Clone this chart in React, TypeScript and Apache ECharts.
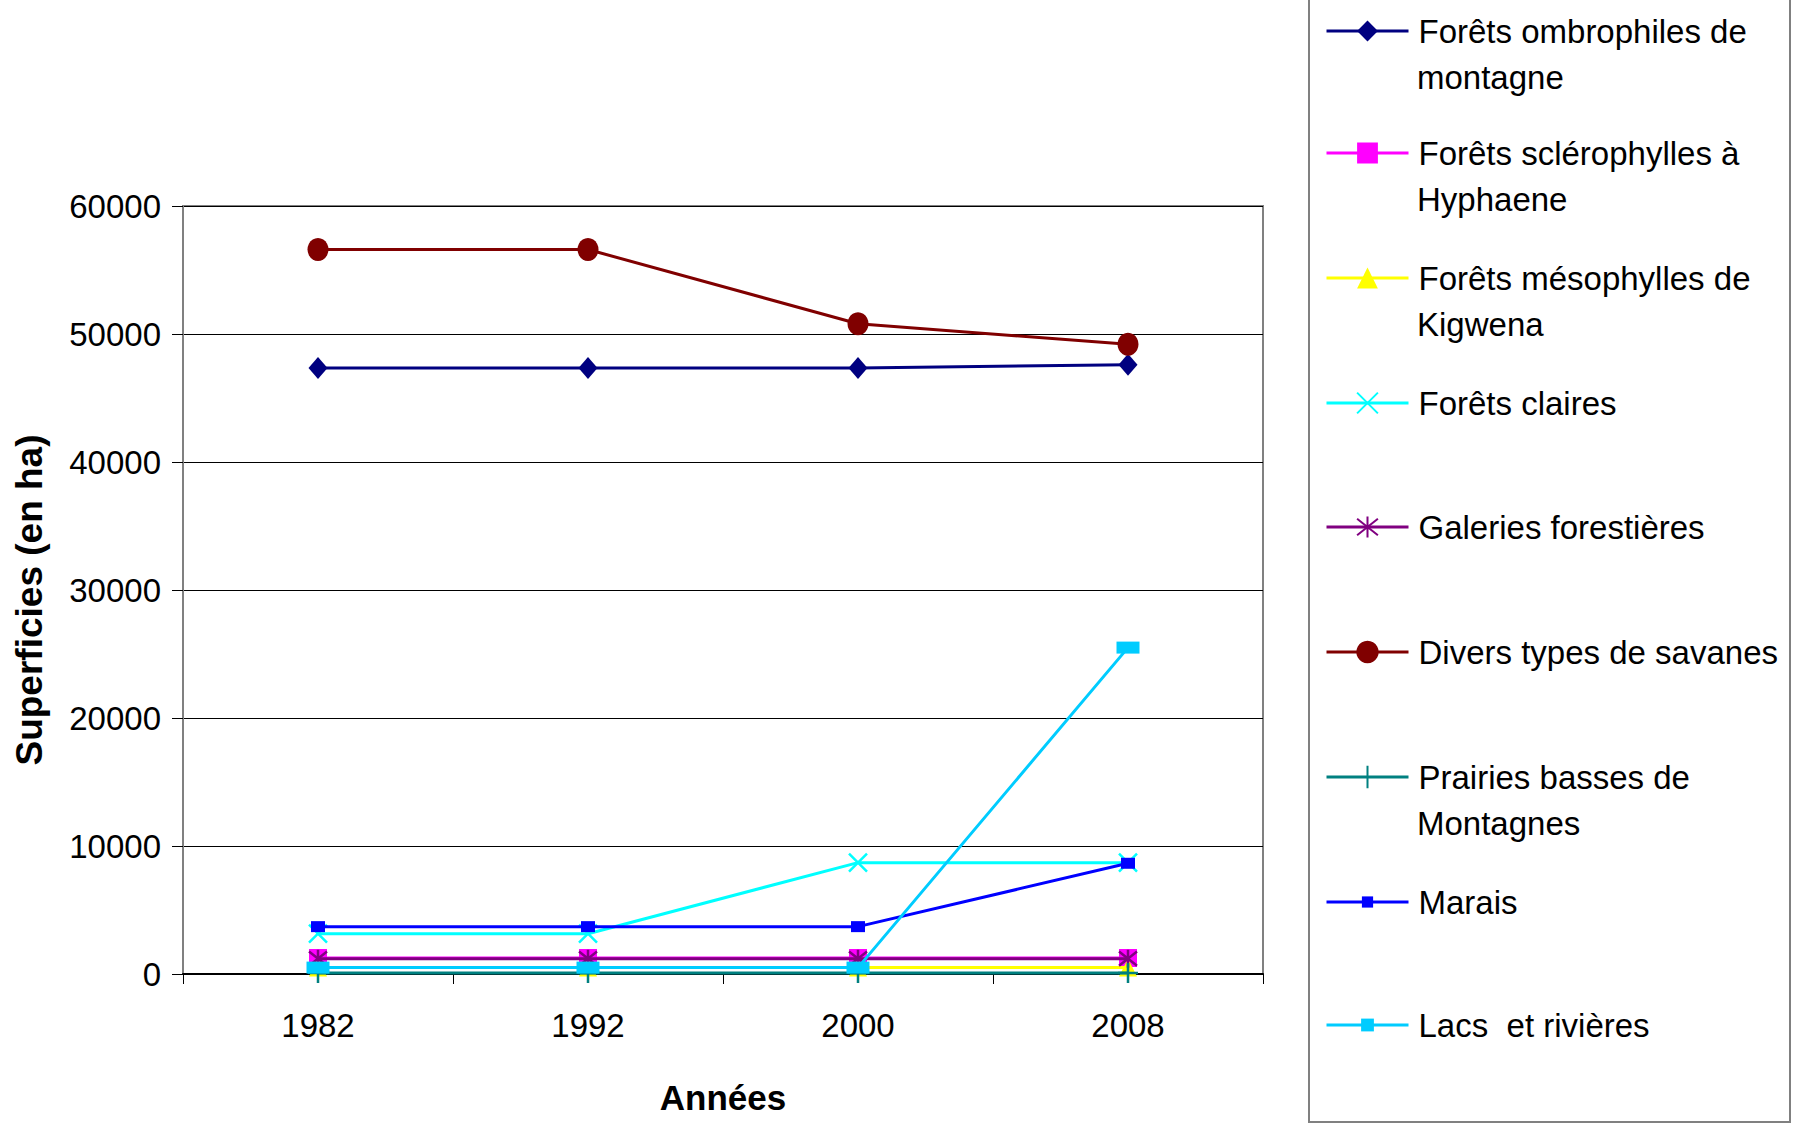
import React, { useEffect, useRef } from 'react';
import * as echarts from 'echarts';

const years = ['1982', '1992', '2000', '2008'];

const ombrophiles = [47350, 47350, 47350, 47600];
const sclerophylles = [1250, 1250, 1250, 1250];
const mesophylles = [500, 500, 500, 500];
const claires = [3150, 3150, 8700, 8700];
const galeries = [1200, 1200, 1200, 1200];
const savanes = [56600, 56600, 50800, 49200];
const prairies = [80, 80, 80, 80];
const marais = [3700, 3700, 3700, 8650];
const lacs = [500, 500, 500, 25500];

const seriesNames = [
  'Forêts ombrophiles de montagne',
  'Forêts sclérophylles à Hyphaene',
  'Forêts mésophylles de Kigwena',
  'Forêts claires',
  'Galeries forestières',
  'Divers types de savanes',
  'Prairies basses de Montagnes',
  'Marais',
  'Lacs  et rivières',
];
const legendFirstLines = [
  'Forêts ombrophiles de',
  'Forêts sclérophylles à',
  'Forêts mésophylles de',
  'Forêts claires',
  'Galeries forestières',
  'Divers types de savanes',
  'Prairies basses de',
  'Marais',
  'Lacs  et rivières',
];
const legendSecondLines = ['montagne', 'Hyphaene', 'Kigwena', '', '', '', 'Montagnes', '', ''];
const seriesValues = [ombrophiles, sclerophylles, mesophylles, claires, galeries, savanes, prairies, marais, lacs];
const colors = ['#000080', '#FF00FF', '#FFFF00', '#00FFFF', '#800080', '#800000', '#008080', '#0000FF', '#00CCFF'];

const X_PATH = 'path://M0,0L10,10M10,0L0,10';
const STAR_PATH = 'path://M1,1L9,9M9,1L1,9M5,0L5,10';
const PLUS_PATH = 'path://M5,0L5,10M0,5L10,5';
const symbols = ['diamond', 'rect', 'triangle', X_PATH, STAR_PATH, 'circle', PLUS_PATH, 'rect', 'rect'];
const symbolSizes: any[] = [[19, 22], 18, 18, 18, 18, [21, 23], 20, [14, 11], [23, 12]];
const strokeOnly = [false, false, false, true, true, false, true, false, false];
const legendIconHeights = [26, 26, 26, 26, 26, 28, 28, 14, 16];

const FONT = "'Liberation Sans', Arial, sans-serif";
const legendCenters = [31, 153, 278, 403, 527, 652, 777, 902, 1025];
const LEG_LEFT = 1325;
const LEG_ICON_W = 82;
const LEG_TEXT_PAD = 5;
const LEG_FONT = 33;
const LEG_LH = 40;
const SECOND_LINE_OFFSET = 46;

export default function App() {
  const ref = useRef<HTMLDivElement>(null);
  useEffect(() => {
    document.body.style.margin = '0';
    const chart = echarts.init(ref.current!, null, { renderer: 'svg' });
    const series = seriesNames.map((name, i) => ({
      name,
      type: 'line',
      data: seriesValues[i],
      symbol: symbols[i],
      symbolSize: symbolSizes[i],
      lineStyle: { color: colors[i], width: 3 },
      itemStyle: strokeOnly[i]
        ? { color: colors[i], borderColor: colors[i], borderWidth: 2.5 }
        : { color: colors[i], borderWidth: 0 },
      emphasis: { disabled: true },
      z: 2 + i,
    }));
    const legends = seriesNames.map((name, i) => ({
      data: [name],
      orient: 'vertical',
      left: LEG_LEFT,
      top: legendCenters[i] - LEG_LH / 2,
      padding: 0,
      itemWidth: LEG_ICON_W,
      itemHeight: legendIconHeights[i],
      selectedMode: false,
      formatter: () => legendFirstLines[i],
      lineStyle: { width: 3 },
      textStyle: {
        fontFamily: FONT,
        fontSize: LEG_FONT,
        color: '#000',
        lineHeight: LEG_LH,
        padding: [0, 0, 0, LEG_TEXT_PAD],
      },
    }));
    const secondLines = legendSecondLines
      .map((t, i) => ({ t, i }))
      .filter((o) => o.t)
      .map((o) => ({
        type: 'text',
        x: LEG_LEFT + LEG_ICON_W + 5 + LEG_TEXT_PAD,
        y: legendCenters[o.i] + SECOND_LINE_OFFSET,
        silent: true,
        style: {
          text: o.t,
          fontFamily: FONT,
          fontSize: LEG_FONT,
          fill: '#000',
          align: 'left',
          verticalAlign: 'middle',
        },
      }));
    chart.setOption({
      animation: false,
      backgroundColor: '#fff',
      grid: {
        left: 183,
        right: 533,
        top: 206,
        bottom: 153,
        show: true,
        borderColor: '#808080',
        borderWidth: 2,
      },
      legend: legends,
      xAxis: {
        type: 'category',
        data: years,
        boundaryGap: true,
        name: 'Années',
        nameLocation: 'middle',
        nameGap: 106,
        nameTextStyle: { fontFamily: FONT, fontSize: 35, fontWeight: 'bold', color: '#000' },
        axisLine: { lineStyle: { color: '#000', width: 2 } },
        axisTick: { show: true, length: 10, lineStyle: { color: '#000', width: 1 } },
        axisLabel: { fontFamily: FONT, fontSize: 33, color: '#000', margin: 35 },
        splitLine: { show: false },
      },
      yAxis: {
        type: 'value',
        min: 0,
        max: 60000,
        interval: 10000,
        axisLine: { show: true, lineStyle: { color: '#808080', width: 2 } },
        axisTick: { show: true, length: 11, lineStyle: { color: '#000', width: 1 } },
        axisLabel: {
          fontFamily: FONT,
          fontSize: 33,
          color: '#000',
          margin: 22,
          formatter: (v: number) => String(v),
        },
        splitLine: { show: true, lineStyle: { color: '#000', width: 1 } },
      },
      graphic: [
        {
          type: 'rect',
          shape: { x: 1309, y: -5, width: 481, height: 1127 },
          style: { fill: 'none', stroke: '#808080', lineWidth: 2 },
          silent: true,
        },
        {
          type: 'text',
          x: 29,
          y: 600,
          rotation: Math.PI / 2,
          silent: true,
          style: {
            text: 'Superficies (en ha)',
            fontFamily: FONT,
            fontSize: 37,
            fontWeight: 'bold',
            fill: '#000',
            align: 'center',
            verticalAlign: 'middle',
          },
        },
        ...secondLines,
      ],
      series,
    });
    return () => chart.dispose();
  }, []);
  return <div ref={ref} style={{ width: 1796, height: 1127 }} />;
}
